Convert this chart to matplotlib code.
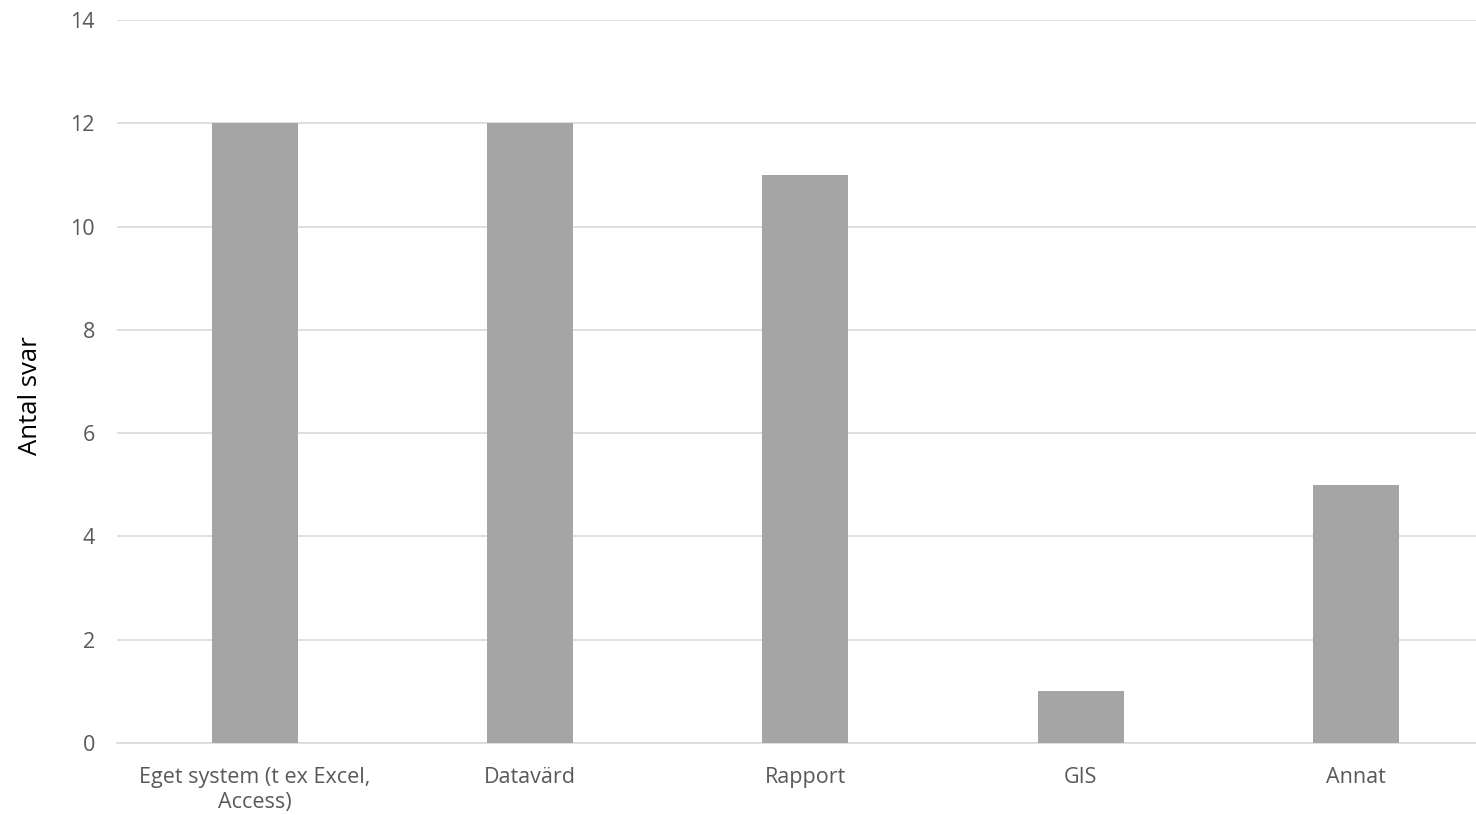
import matplotlib
matplotlib.use('Agg')
import matplotlib.pyplot as plt

categories = ['Eget system (t ex Excel,\nAccess)', 'Datavärd', 'Rapport', 'GIS', 'Annat']
values = [12, 12, 11, 1, 5]
yticks = [0, 2, 4, 6, 8, 10, 12, 14]

plt.rcParams['font.family'] = ['Open Sans', 'DejaVu Sans']

W, H = 1476, 815
fig = plt.figure(figsize=(W / 100, H / 100), dpi=100)
ax = fig.add_axes([117 / W, (H - 743) / H, (W - 117) / W, (743 - 20) / H])

x = list(range(len(categories)))
ax.bar(x, values, width=0.3125, color='#A5A5A5', zorder=3)

ax.set_xlim(-0.5, 4.436)
ax.set_ylim(0, 14)
ax.set_yticks(yticks)
ax.set_xticks(x)
ax.set_xticklabels(categories, fontsize=15.5, color='#595959', linespacing=1.3)
ax.tick_params(axis='y', labelsize=15.5, labelcolor='#595959', length=0, pad=16)
ax.tick_params(axis='x', length=0, pad=17)

ax.grid(axis='y', color='#D9D9D9', linewidth=1.2, zorder=0)
for s in ['top', 'right', 'left']:
    ax.spines[s].set_visible(False)
ax.spines['bottom'].set_color('#D9D9D9')
ax.spines['bottom'].set_linewidth(1.2)

ax.set_ylabel('Antal svar', fontsize=18.5, color='black')
ax.yaxis.set_label_coords(-0.0547, 0.481)

fig.savefig('out.png', dpi=100)
